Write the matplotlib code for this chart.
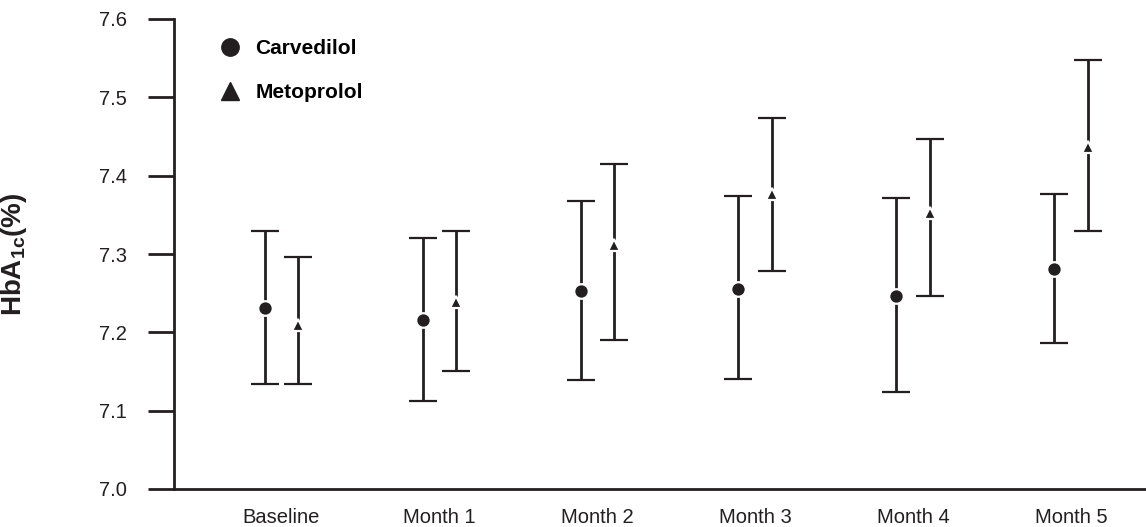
import matplotlib.pyplot as plt
import numpy as np
from matplotlib.lines import Line2D

plt.rcParams['font.family'] = ['Liberation Sans', 'DejaVu Sans']
plt.rcParams['mathtext.fontset'] = 'custom'
plt.rcParams['mathtext.rm'] = 'Liberation Sans'
plt.rcParams['mathtext.bf'] = 'Liberation Sans:bold'

# Data
timepoints = ["Baseline", "Month 1", "Month 2", "Month 3", "Month 4", "Month 5"]

carv_mean = [7.231, 7.216, 7.253, 7.255, 7.246, 7.281]
carv_low = [7.134, 7.112, 7.139, 7.141, 7.124, 7.186]
carv_high = [7.329, 7.320, 7.368, 7.374, 7.371, 7.377]

meto_mean = [7.210, 7.239, 7.312, 7.376, 7.352, 7.436]
meto_low = [7.134, 7.151, 7.190, 7.278, 7.247, 7.329]
meto_high = [7.296, 7.329, 7.415, 7.474, 7.447, 7.548]

ink = "#231f20"

fig = plt.figure(figsize=(11.46, 5.27), dpi=100)
ax = fig.add_axes([174 / 1146, 38 / 527, 972 / 1146, 470 / 527])

x = np.arange(len(timepoints))
off = 0.106

for xs, mean, low, high, mk, ms in [
    (x - off, carv_mean, carv_low, carv_high, "o", 10.5),
    (x + off, meto_mean, meto_low, meto_high, "^", 8.5),
]:
    mean = np.array(mean)
    yerr = [mean - np.array(low), np.array(high) - mean]
    ax.errorbar(xs, mean, yerr=yerr, fmt=mk, color=ink, ecolor=ink,
                markersize=ms, markeredgecolor="white", markeredgewidth=1.6,
                elinewidth=2, capsize=10, capthick=2, zorder=3)

ax.set_xlim(-0.681, 5.475)
ax.set_ylim(7.0, 7.6)
ax.set_yticks([7.0, 7.1, 7.2, 7.3, 7.4, 7.5, 7.6])
ax.set_yticklabels(["7.0", "7.1", "7.2", "7.3", "7.4", "7.5", "7.6"])
ax.set_xticks(x)
ax.set_xticklabels(timepoints)

for s in ["top", "right"]:
    ax.spines[s].set_visible(False)
for s in ["left", "bottom"]:
    ax.spines[s].set_color(ink)
    ax.spines[s].set_linewidth(2)

ax.tick_params(axis="y", direction="out", length=19, width=2, color=ink,
               labelsize=14.5, labelcolor=ink, pad=15)
ax.tick_params(axis="x", length=0, labelsize=14.5, labelcolor=ink, pad=14)

ax.set_ylabel(r"$\mathbf{HbA_{1c}(\%)}$", fontsize=20, color=ink)
ax.yaxis.set_label_coords(-0.149, 0.5)

handles = [
    Line2D([], [], linestyle="none", marker="o", color=ink, markersize=12.5),
    Line2D([], [], linestyle="none", marker="^", color=ink, markersize=13),
]
ax.legend(handles, ["Carvedilol", "Metoprolol"], loc="upper left",
          bbox_to_anchor=(220 / 1146, 1 - 39 / 527), bbox_transform=fig.transFigure,
          frameon=False, handlelength=1.0, handletextpad=0.7, labelspacing=1.22,
          borderpad=0, borderaxespad=0,
          prop={"weight": "bold", "size": 15})

fig.savefig("out.png", dpi=100)
